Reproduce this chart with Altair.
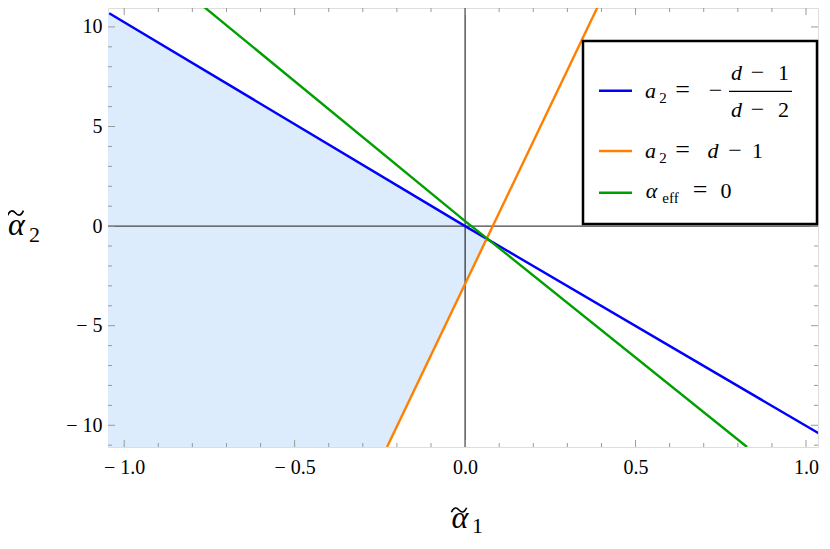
import altair as alt
import pandas as pd

# ---- data ----
blue_x = [-1.044, 0.0, 1.039]
blue_y = [10.69, 0.0, -10.42]
orange_x = [-0.229, 0.392]
orange_y = [-11.09, 11.12]
green_x = [-0.774, 0.0, 0.066, 0.827]
green_y = [11.12, 0.25, -0.64, -11.09]
shade_x = [-1.0475, -0.229, 0.0, 0.066]
shade_upper = [10.72, 2.34, 0.0, -0.64]
shade_lower = [-11.09, -11.09, -2.92, -0.64]

x_major = [-1.0, -0.5, 0.0, 0.5, 1.0]
x_minor = [-0.9, -0.8, -0.7, -0.6, -0.4, -0.3, -0.2, -0.1,
           0.1, 0.2, 0.3, 0.4, 0.6, 0.7, 0.8, 0.9]
y_major = [-10, -5, 0, 5, 10]
y_minor = [-11, -9, -8, -7, -6, -4, -3, -2, -1, 1, 2, 3, 4, 6, 7, 8, 9]

W, H = 710, 439
SERIF = "Liberation Serif, 'DejaVu Serif', serif"
FRAME = "#9a9a9a"
BLUE, ORANGE, GREEN = "#0000ff", "#ff8000", "#00a000"
FILL = "#dcecfc"
TILDE = "M -1 0.3 C -0.7 -0.4 -0.35 -0.4 0 0 C 0.35 0.4 0.7 0.4 1 -0.3"

xs = alt.Scale(domain=[-1.0475, 1.0352], nice=False, zero=False)
ys = alt.Scale(domain=[-11.09, 10.95], nice=False, zero=False)

xa = alt.Axis(values=x_major, tickSize=0, domain=False, grid=False, title="",
              labelFont=SERIF, labelFontSize=20, labelColor="black", labelPadding=10,
              labelExpr="datum.value < 0 ? '\u2212 ' + format(-datum.value, '.1f') : format(datum.value, '.1f')")
ya = alt.Axis(values=y_major, tickSize=0, domain=False, grid=False, title="",
              labelFont=SERIF, labelFontSize=20, labelColor="black", labelPadding=6,
              labelExpr="datum.value < 0 ? '\u2212 ' + format(-datum.value, 'd') : format(datum.value, 'd')")

X = lambda f="x": alt.X(f"{f}:Q", scale=xs, axis=xa)
Y = lambda f="y": alt.Y(f"{f}:Q", scale=ys, axis=ya)

shade_df = pd.DataFrame({"x": shade_x, "upper": shade_upper, "lower": shade_lower})
shade = alt.Chart(shade_df).mark_area(color=FILL, opacity=1, clip=True).encode(
    x=X(), y=Y("upper"), y2="lower:Q")

ax0 = alt.Chart(pd.DataFrame({"x": [0.0]})).mark_rule(color="black", strokeWidth=1).encode(
    x=X(), y=alt.value(0), y2=alt.value(H))
ay0 = alt.Chart(pd.DataFrame({"y": [0.0]})).mark_rule(color="#444444", strokeWidth=1.3).encode(
    y=Y(), x=alt.value(0), x2=alt.value(W))

def line(xv, yv, col):
    return alt.Chart(pd.DataFrame({"x": xv, "y": yv})).mark_line(
        color=col, strokeWidth=2.4, clip=True).encode(x=X(), y=Y())

blue = line(blue_x, blue_y, BLUE)
orange = line(orange_x, orange_y, ORANGE)
green = line(green_x, green_y, GREEN)

def xticks(vals, y0, y1):
    return alt.Chart(pd.DataFrame({"x": vals})).mark_rule(color=FRAME, strokeWidth=1).encode(
        x=X(), y=alt.value(y0), y2=alt.value(y1))

def yticks(vals, x0, x1):
    return alt.Chart(pd.DataFrame({"y": vals})).mark_rule(color=FRAME, strokeWidth=1).encode(
        y=Y(), x=alt.value(x0), x2=alt.value(x1))

ticks = [
    xticks(x_major, H, H - 7), xticks(x_minor, H, H - 4),
    xticks(x_major, 0, 7), xticks(x_minor, 0, 4),
    yticks(y_major, 0, 7), yticks(y_minor, 0, 4),
    yticks(y_major, W, W - 7), yticks(y_minor, W, W - 4),
]

one = pd.DataFrame({"k": [0]})

def txt(s, x, y, size=22, italic=False, align="center"):
    kw = dict(font=SERIF, fontSize=size, align=align, baseline="alphabetic", color="black")
    if italic:
        kw["fontStyle"] = "italic"
    return alt.Chart(one).mark_text(**kw).encode(x=alt.value(x), y=alt.value(y), text=alt.value(s))

def seg(x0, x1, y, col, w=2.4):
    return alt.Chart(one).mark_rule(color=col, strokeWidth=w).encode(
        x=alt.value(x0), x2=alt.value(x1), y=alt.value(y))

def tilde(x, y, size):
    return alt.Chart(one).mark_point(shape=TILDE, filled=False, color="black",
                                     strokeWidth=1.6, size=size, opacity=1).encode(
        x=alt.value(x), y=alt.value(y))

box = alt.Chart(one).mark_rect(fill="white", stroke="black", strokeWidth=2.5).encode(
    x=alt.value(475), x2=alt.value(709), y=alt.value(33), y2=alt.value(216))

# legend positions are relative to the plot area (origin at page x=108, y=8)
legend = [
    box,
    seg(491, 524, 82.7, BLUE), seg(491, 524, 143, ORANGE), seg(491, 524, 184.7, GREEN),
    # row 1: a2 = -(d-1)/(d-2)
    txt("a", 542.5, 90.3, italic=True), txt("2", 555, 94.5, size=15),
    txt("=", 574.5, 90.3, size=26), txt("\u2212", 607.5, 90.3, size=24),
    txt("d", 628.5, 72, italic=True), txt("\u2212", 649.5, 72, size=24), txt("1", 675.5, 72),
    seg(621, 684, 83.3, "black", 1.2),
    txt("d", 628.5, 109.3, italic=True), txt("\u2212", 649.5, 109.3, size=24), txt("2", 675.5, 109.3),
    # row 2: a2 = d - 1
    txt("a", 542.5, 150.3, italic=True), txt("2", 555, 154.5, size=15),
    txt("=", 574.5, 150.3, size=26), txt("d", 605, 150.3, italic=True),
    txt("\u2212", 627, 150.3, size=24), txt("1", 649.5, 150.3),
    # row 3: alpha_eff = 0
    txt("\u03b1", 543.5, 190.3, italic=True), txt("eff", 562.5, 195.3, size=15),
    txt("=", 592, 190.3, size=26), txt("0", 618, 190.3),
]

titles = [
    txt("\u03b1", 352, 520, size=32, italic=True),
    tilde(351, 502, 230),
    txt("1", 369.5, 525, size=22),
    txt("\u03b1", -91.5, 227, size=32, italic=True),
    tilde(-92.5, 205, 250),
    txt("2", -73.5, 233.7, size=22),
]

chart = alt.layer(shade, ax0, ay0, blue, orange, green, *ticks, *legend, *titles).properties(
    width=W, height=H,
    autosize=alt.AutoSizeParams(type="none"),
    padding={"left": 100, "top": 0, "right": 3, "bottom": 90},
).configure_view(stroke=FRAME, strokeWidth=1).configure(background="white")

chart.save("out.html", embed_options={"renderer": "svg", "actions": False})
